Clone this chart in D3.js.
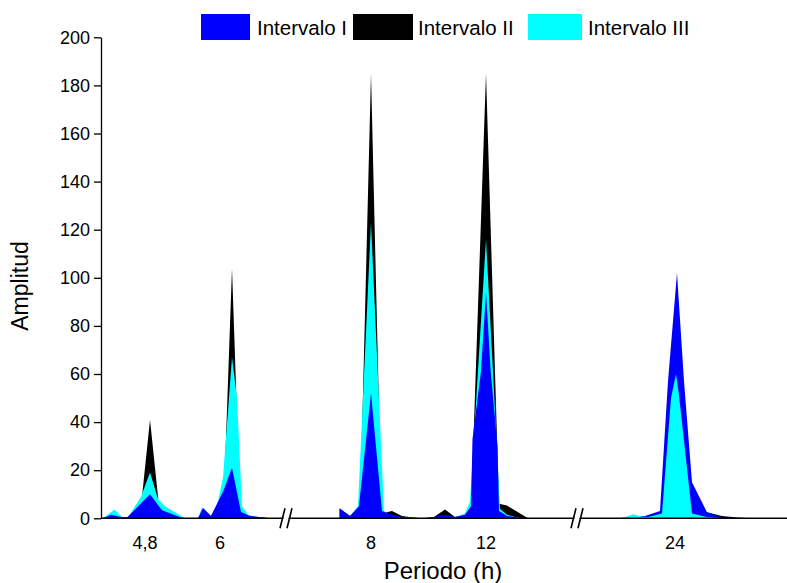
<!DOCTYPE html>
<html>
<head>
<meta charset="utf-8">
<script src="https://cdn.jsdelivr.net/npm/d3@7"></script>
<style>
  body { margin: 0; background: #fff; }
  svg { font-family: "Liberation Sans", Arial, sans-serif; }
</style>
</head>
<body>
<div id="viz"></div>
<script>
// Amplitude vs period (h) for three intervals; the x axis is broken in three pieces
const seriesNames = ["Intervalo I", "Intervalo II", "Intervalo III"];
const seriesColors = ["#0000ff", "#000000", "#00ffff"];

// piece 1: 4,8 h and 6 h  — [period (h), amplitude]
const seg1I = [[4.128, 0], [4.256, 1.5], [4.384, 0.8], [4.512, 0.3], [4.88, 10], [5.072, 3.3],
  [5.408, 0], [5.648, 0], [5.728, 4.3], [5.856, 1], [6.048, 11], [6.192, 21], [6.336, 2.6],
  [6.48, 1], [6.8, 0]];
const seg1II = [[4.128, 0], [4.256, 1], [4.384, 0.5], [4.512, 0.3], [4.736, 5], [4.88, 41],
  [5.024, 5], [5.136, 2], [5.44, 0], [5.648, 0], [5.728, 3], [5.856, 1], [6.064, 10],
  [6.192, 104], [6.32, 6], [6.448, 1], [6.8, 0]];
const seg1III = [[4.128, 0], [4.312, 3.7], [4.432, 0.5], [4.528, 0.3], [4.736, 9], [4.88, 19],
  [5.008, 8], [5.12, 5], [5.44, 0], [5.648, 0], [5.712, 4.5], [5.856, 1], [5.952, 5],
  [6.048, 17], [6.192, 67], [6.272, 50], [6.352, 5], [6.448, 1.5], [6.72, 0]];

// piece 2: 8 h and 12 h
const seg2I = [[6.908, 4.2], [7.27, 1], [7.583, 5], [8, 52], [8.383, 3], [8.73, 1.5],
  [9.078, 0.5], [9.461, 0.2], [9.809, 0], [10.191, 0.5], [10.539, 1.5], [10.922, 0.5],
  [11.27, 1.5], [11.478, 5], [11.53, 33], [11.826, 61], [12, 94], [12.163, 61], [12.4, 30],
  [12.452, 3], [12.73, 1], [13.078, 0.3], [13.461, 0]];
const seg2II = [[6.908, 4], [7.27, 1], [7.617, 2], [8, 185], [8.365, 2], [8.73, 3],
  [9.078, 1], [9.461, 0.3], [9.809, 0], [10.191, 0.5], [10.574, 3.7], [10.922, 0.5],
  [11.27, 1.5], [11.478, 3], [12, 185], [12.452, 6], [12.73, 5.3], [13.461, 0]];
const seg2III = [[6.908, 3], [7.27, 1], [7.548, 5], [8, 123], [8.452, 3], [8.73, 1],
  [9.078, 0.3], [9.461, 0.2], [9.809, 0], [10.191, 0.3], [10.539, 1], [10.922, 0.5],
  [11.27, 2], [11.443, 7], [12, 116], [12.243, 61], [12.487, 4], [12.73, 1.5],
  [13.078, 0.3], [13.461, 0]];

// piece 3: 24 h
const seg3I = [[16.267, 0], [18.267, 0.5], [20, 1], [22, 3], [23.067, 57], [24.267, 102],
  [25.2, 57], [26.267, 15], [28.267, 2.5], [30.267, 0.3], [32.267, 0], [38.267, 0]];
const seg3II = [[16.267, 0], [18.267, 0.3], [20, 0.5], [22, 1.5], [24.267, 3], [26.267, 3],
  [28.267, 2.5], [30.267, 1], [32.267, 0.3], [34.267, 0], [38.267, 0]];
const seg3III = [[16.933, 0], [18.4, 1.7], [19.467, 0.7], [20.4, 0.5], [22.267, 2],
  [23.467, 50], [24.133, 60], [24.5, 52], [26.267, 2], [28.267, 0.5], [30.267, 0]];

const yTicks = [0, 20, 40, 60, 80, 100, 120, 140, 160, 180, 200];
const xTickLabels = ["4,8", "6", "8", "12", "24"];
const xTickValues = [[0, 4.8], [0, 6], [1, 8], [1, 12], [2, 24]]; // [piece, period]

const WIDTH = 787, HEIGHT = 583;
const axisX = 101, axisY = 518.3, topY = 37.3;

const svg = d3.select("#viz").append("svg")
  .attr("width", WIDTH).attr("height", HEIGHT);

const y = d3.scaleLinear().domain([0, 200]).range([axisY, topY]);

// one x scale per axis piece
const pieces = [
  { data: [seg1I, seg1II, seg1III], x: d3.scaleLinear().domain([4.8, 6]).range([145, 220]), order: [1, 2, 0] },
  { data: [seg2I, seg2II, seg2III], x: d3.scaleLinear().domain([8, 12]).range([371, 486]), order: [1, 2, 0] },
  { data: [seg3I, seg3II, seg3III], x: d3.scaleLinear().domain([24, 34]).range([675, 750]), order: [1, 0, 2] }
];

const plot = svg.append("g");
pieces.forEach(p => {
  const area = d3.area()
    .x(d => p.x(d[0]))
    .y0(y(0))
    .y1(d => y(d[1]));
  p.order.forEach(s => {
    plot.append("path")
      .datum(p.data[s])
      .attr("d", area)
      .attr("fill", seriesColors[s])
      .attr("stroke", "none");
  });
});

// y axis
const yAxis = svg.append("g")
  .attr("transform", `translate(${axisX},0)`)
  .call(d3.axisLeft(y).tickValues(yTicks).tickSize(7).tickPadding(4).tickSizeOuter(0));
yAxis.select(".domain").attr("stroke", "#000").attr("stroke-width", 1.3);
yAxis.selectAll(".tick line").attr("stroke", "#000").attr("stroke-width", 1.3);
yAxis.selectAll("text").style("font-size", "18px").attr("fill", "#000");

// x axis line
svg.append("line")
  .attr("x1", axisX).attr("x2", WIDTH)
  .attr("y1", axisY).attr("y2", axisY)
  .attr("stroke", "#000").attr("stroke-width", 1.6);

// axis breaks
[287, 578].forEach(bx => {
  const g = svg.append("g").attr("transform", `translate(${bx},${axisY})`);
  g.append("path").attr("d", "M-6,9 L-1,-9 L4,-9 L-1,9 Z").attr("fill", "#fff");
  g.append("path").attr("d", "M-7,10 L-2,-10 M0,10 L5,-10")
    .attr("stroke", "#000").attr("stroke-width", 1.6);
});

// x tick labels
svg.append("g").selectAll("text")
  .data(xTickLabels)
  .join("text")
  .attr("x", (d, i) => pieces[xTickValues[i][0]].x(xTickValues[i][1]))
  .attr("y", 549)
  .attr("text-anchor", "middle")
  .style("font-size", "18px")
  .text(d => d);

// axis titles
svg.append("text")
  .attr("x", 443).attr("y", 579)
  .attr("text-anchor", "middle")
  .style("font-size", "24px")
  .text("Periodo (h)");

svg.append("text")
  .attr("transform", `translate(28,286) rotate(-90)`)
  .attr("text-anchor", "middle")
  .style("font-size", "23px")
  .text("Amplitud");

// legend
const legendSwatch = [[201, 49], [353, 60], [528, 54]];
const legendTextX = [257, 418, 588];
const legend = svg.append("g");
seriesNames.forEach((name, i) => {
  legend.append("rect")
    .attr("x", legendSwatch[i][0]).attr("y", 14)
    .attr("width", legendSwatch[i][1]).attr("height", 26)
    .attr("fill", seriesColors[i]);
  legend.append("text")
    .attr("x", legendTextX[i])
    .attr("y", 35)
    .style("font-size", "20.5px")
    .text(name);
});
</script>
</body>
</html>
